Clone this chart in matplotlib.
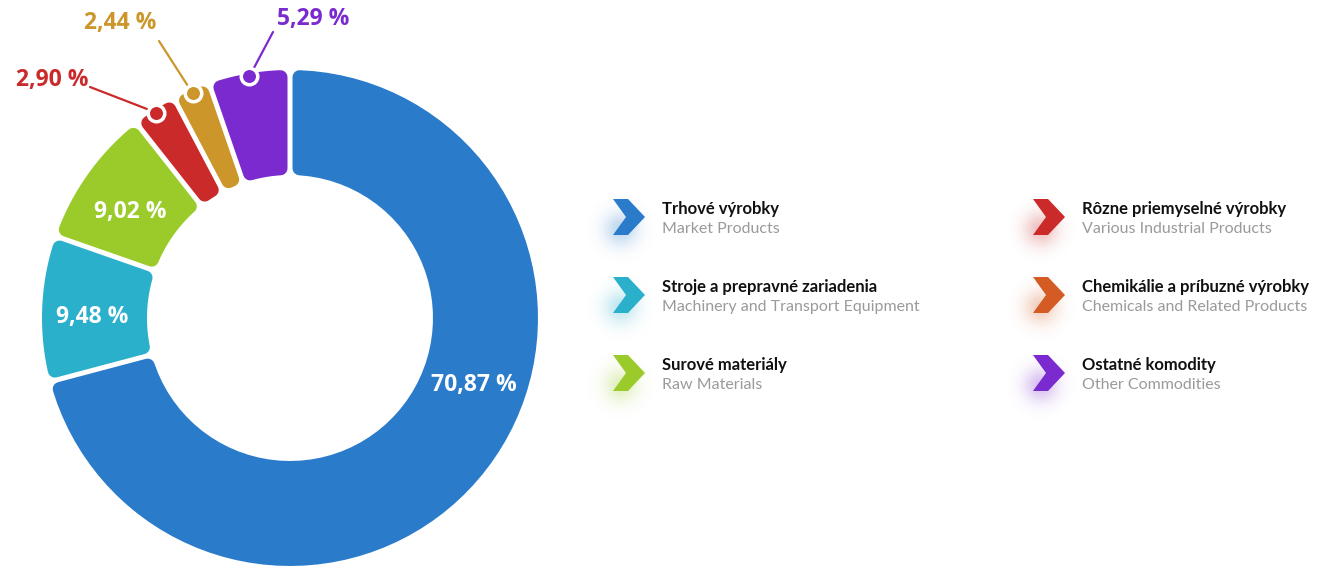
import numpy as np
import matplotlib
matplotlib.use("Agg")
import matplotlib.pyplot as plt
from matplotlib.patches import Polygon

# data
shares = [70.87, 9.48, 9.02, 2.90, 2.44, 5.29]
share_labels = ["70,87 %", "9,48 %", "9,02 %", "2,90 %", "2,44 %", "5,29 %"]
slice_colors = ["#2b7bcb", "#2bb0cc", "#9acb2a", "#cb2a2a", "#cc962b", "#7a2ace"]

legend_titles = ["Trhové výrobky", "Stroje a prepravné zariadenia", "Surové materiály",
                 "Rôzne priemyselné výrobky", "Chemikálie a príbuzné výrobky", "Ostatné komodity"]
legend_subtitles = ["Market Products", "Machinery and Transport Equipment", "Raw Materials",
                    "Various Industrial Products", "Chemicals and Related Products", "Other Commodities"]
legend_colors = ["#2b7bcb", "#2bb0cc", "#9acb2a", "#cb2a2a", "#d55b24", "#7a2ace"]

W, H = 1322, 566
fig = plt.figure(figsize=(W / 100, H / 100), dpi=100)
ax = fig.add_axes([0, 0, 1, 1])
ax.set_xlim(0, W)
ax.set_ylim(H, 0)
ax.set_aspect("equal")
ax.axis("off")

# donut geometry (pixels)
cx, cy = 290, 318
r_out, r_in = 248, 143
rc = 7      # corner radius
gap = 5
pt = 72 / 100  # px -> points


def slice_poly(a1, a2):
    """a1 < a2 math angles in degrees; returns shrunk polygon in pixel coords"""
    s = rc + gap / 2
    ro, ri = r_out - rc, r_in + rc
    do = np.degrees(np.arcsin(s / ro))
    di = np.degrees(np.arcsin(s / ri))
    t_out = np.radians(np.linspace(a1 + do, a2 - do, 80))
    t_in = np.radians(np.linspace(a2 - di, a1 + di, 60))
    xs = np.concatenate([cx + ro * np.cos(t_out), cx + ri * np.cos(t_in)])
    ys = np.concatenate([cy - ro * np.sin(t_out), cy - ri * np.sin(t_in)])
    return np.column_stack([xs, ys])


cum = np.concatenate([[0], np.cumsum(shares)])
bounds = 90 - 3.6 * cum
mids = (bounds[:-1] + bounds[1:]) / 2

for i, col in enumerate(slice_colors):
    poly = Polygon(slice_poly(bounds[i + 1], bounds[i]), closed=True,
                   facecolor=col, edgecolor=col, lw=2 * rc * pt, joinstyle="round")
    ax.add_patch(poly)

num_font = dict(family=["Open Sans", "DejaVu Sans"], fontweight="bold", fontsize=16.5)

# labels inside
inside_pos = [(474, 385), (92, 317), (130, 212)]
for i, (x, y) in enumerate(inside_pos):
    ax.text(x, y, share_labels[i], color="white", ha="center", va="center", **num_font)

# labels outside with leader lines and dots
outside_pos = [(52, 80), (120, 23), (313, 19)]
line_start = [(90, 87), (159, 41), (273, 32)]
for k, i in enumerate([3, 4, 5]):
    a = np.radians(mids[i])
    dx, dy = cx + 245 * np.cos(a), cy - 245 * np.sin(a)
    ax.plot([line_start[k][0], dx], [line_start[k][1], dy], color=slice_colors[i], lw=1.6,
            solid_capstyle="round", zorder=3)
    ax.plot(dx, dy, "o", ms=16.5 * pt, mfc=slice_colors[i], mec="white", mew=3.5 * pt, zorder=4)
    ax.text(outside_pos[k][0], outside_pos[k][1], share_labels[i], color=slice_colors[i],
            ha="center", va="center", **num_font)

# legend
col_x = [613, 1033]
row_y = [217, 295, 373]
chev = np.array([[0, -18], [15, -18], [32, 0], [15, 18], [0, 18], [13, 0]])
gx, gy = np.meshgrid(np.arange(-45, 46), np.arange(-45, 46))
blob = np.exp(-(gx ** 2 + gy ** 2) / (2 * 12.0 ** 2))
for j in range(6):
    x0 = col_x[j // 3]
    y0 = row_y[j % 3]
    rgb = matplotlib.colors.to_rgb(legend_colors[j])
    img = np.zeros((91, 91, 4))
    img[..., :3] = rgb
    img[..., 3] = 0.3 * blob
    ax.imshow(img, extent=(x0 + 8 - 45, x0 + 8 + 45, y0 + 12 + 45, y0 + 12 - 45),
              interpolation="bilinear", zorder=1)
    ax.add_patch(Polygon(chev + [x0, y0], closed=True, facecolor=legend_colors[j],
                         edgecolor="none", zorder=2))
    ax.text(x0 + 49, y0 - 8, legend_titles[j], color="#111111", fontsize=12,
            family=["Lato", "DejaVu Sans"], fontweight="bold", ha="left", va="center")
    ax.text(x0 + 49, y0 + 12, legend_subtitles[j], color="#9a9a9a", fontsize=11.5,
            family=["Lato", "DejaVu Sans"], ha="left", va="center")

ax.set_xlim(0, W)
ax.set_ylim(H, 0)
fig.savefig("out.png", dpi=100)
